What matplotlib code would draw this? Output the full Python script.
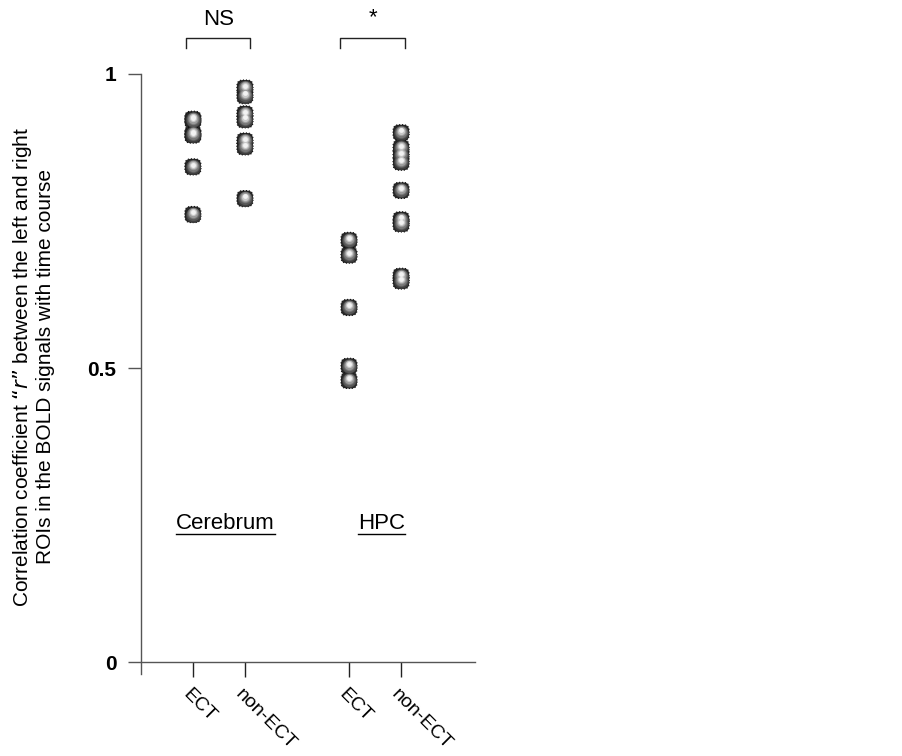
import numpy as np
import matplotlib
matplotlib.use("Agg")
import matplotlib.pyplot as plt
from matplotlib.path import Path
from matplotlib.transforms import ScaledTranslation

plt.rcParams['font.family'] = ['Liberation Sans', 'DejaVu Sans']

# data
groups = ['ECT', 'non-ECT', 'ECT', 'non-ECT']
positions = [1, 2, 4, 5]
cereb_ect = [0.923, 0.921, 0.898, 0.896, 0.842, 0.761]
cereb_non = [0.976, 0.963, 0.932, 0.922, 0.886, 0.876, 0.788]
hpc_ect = [0.717, 0.692, 0.603, 0.503, 0.479]
hpc_non = [0.900, 0.874, 0.862, 0.850, 0.802, 0.752, 0.745, 0.656, 0.648]
all_vals = [cereb_ect, cereb_non, hpc_ect, hpc_non]
regions = ['Cerebrum', 'HPC']
region_x = [1.62, 4.62]
sig = ['NS', '*']
bracket_x = [(0.87, 2.1), (3.83, 5.08)]

# rounded square marker (superellipse)
t = np.linspace(0, 2 * np.pi, 64)
px = np.sign(np.cos(t)) * np.abs(np.cos(t)) ** 0.6
py = np.sign(np.sin(t)) * np.abs(np.sin(t)) ** 0.6
verts = np.column_stack([px, py])
rsq = Path(np.vstack([verts, verts[:1]]), closed=True)

fig = plt.figure(figsize=(9.03, 7.56), dpi=100)
ax = fig.add_axes([0.156, 0.1085, 0.370, 0.7937])

ax.set_xlim(0, 6.42)
ax.set_ylim(-0.02, 1.0)
for s in ['top', 'right']:
    ax.spines[s].set_visible(False)
ax.spines['bottom'].set_position(('data', 0))
for s in ['left', 'bottom']:
    ax.spines[s].set_color('#555555')
    ax.spines[s].set_linewidth(1.0)

ax.set_yticks([0, 0.5, 1])
ax.set_yticklabels(['0', '0.5', '1'], fontsize=15, fontweight='bold')
ax.tick_params(axis='y', length=9.5, width=1, color='#555555', pad=8)
ax.set_xticks(positions)
ax.set_xticklabels(groups, fontsize=14, rotation=-45, rotation_mode='anchor',
                   ha='left', va='center')
ax.tick_params(axis='x', length=11, width=1, color='#222222', pad=10)
shift = ScaledTranslation(-7 / 100, 0, fig.dpi_scale_trans)
for lab in ax.get_xticklabels():
    lab.set_transform(lab.get_transform() + shift)

# shaded "sphere" markers, layers getting lighter toward the highlight
base = 135
layers = [(1.00, '#262626', 0.0), (0.85, '#3d3d3d', 0.0), (0.68, '#575757', 0.5),
          (0.50, '#777777', 0.9), (0.34, '#9c9c9c', 1.2), (0.20, '#c8c8c8', 1.5),
          (0.09, '#f2f2f2', 1.7)]
for xpos, vals in zip(positions, all_vals):
    xs = [xpos] * len(vals)
    for frac, col, dy in layers:
        tr = ax.transData + ScaledTranslation(0, dy / 72, fig.dpi_scale_trans)
        if frac == 1.0:
            ax.scatter(xs, vals, s=base, marker=rsq, c=col, edgecolors='#111111',
                       linewidths=0.8, linestyle=':', transform=tr, zorder=3)
        else:
            ax.scatter(xs, vals, s=base * frac, marker='o', c=col, linewidths=0,
                       transform=tr, zorder=3)

# significance brackets
for (x0, x1), lab in zip(bracket_x, sig):
    ax.plot([x0, x0, x1, x1], [1.044, 1.061, 1.061, 1.044], color='#222222',
            lw=1.0, clip_on=False)
    ax.text((x0 + x1) / 2, 1.093 if lab == 'NS' else 1.095, lab, ha='center',
            va='center', fontsize=16)

# region labels, underlined
fig.canvas.draw()
r = fig.canvas.get_renderer()
for xc, lab in zip(region_x, regions):
    txt = ax.text(xc, 0.236, lab, ha='center', va='center', fontsize=16)
    bb = txt.get_window_extent(renderer=r).transformed(ax.transData.inverted())
    ax.plot([bb.x0, bb.x1], [0.218, 0.218], color='black', lw=1.0, clip_on=False)

fig.text(0.036, 0.515, 'Correlation coefficient \u201c$\\it{r}$\u201d between the left and right\n'
         'ROIs in the BOLD signals with time course',
         rotation=90, ha='center', va='center', fontsize=15, linespacing=1.1)

fig.savefig('out.png', dpi=100, facecolor='white')
